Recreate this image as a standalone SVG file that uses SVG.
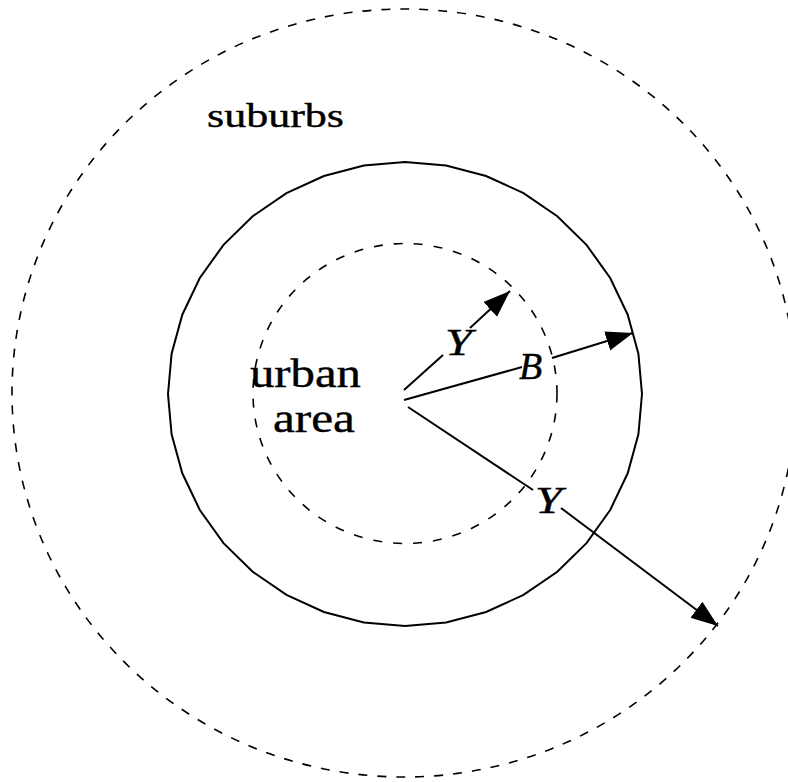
<svg xmlns="http://www.w3.org/2000/svg" width="788" height="782" viewBox="0 0 788 782">
<style>
.dash{fill:none;stroke:#000;stroke-width:1.6}
.solid{fill:none;stroke:#000;stroke-width:2}
.ln{fill:none;stroke:#000;stroke-width:2}
.lbl{font-family:"Liberation Serif","Times New Roman",serif;fill:#000;stroke:#000;stroke-width:0.4}
.var{font-family:"Liberation Serif","Times New Roman",serif;font-style:italic;fill:#000;stroke:#000;stroke-width:0.4}
</style>
<defs>
<marker id="ah" markerUnits="userSpaceOnUse" markerWidth="30" markerHeight="22" refX="27" refY="10" orient="auto">
<path d="M0,0 L27,10 L0,20 Z" fill="#000"/>
</marker>
</defs>
<rect width="788" height="782" fill="#fff"/>
<g id="suburbs">
<ellipse class="dash" cx="404" cy="393" rx="392" ry="384" stroke-dasharray="9 10"/>
<text class="lbl" x="207" y="127" font-size="34" textLength="137" lengthAdjust="spacingAndGlyphs">suburbs</text>
</g>
<g id="boundary">
<polygon class="solid" points="642,394 638.4,434.3 627.7,473.3 610.2,510 586.5,543.1 557.3,571.7 523.5,594.9 486.1,612 446.1,622.5 405,626 363.9,622.5 323.9,612 286.5,594.9 252.7,571.7 223.5,543.1 199.8,510 182.3,473.3 171.6,434.3 168,394 171.6,353.7 182.3,314.7 199.8,278 223.5,244.9 252.7,216.3 286.5,193.1 323.9,176 363.9,165.5 405,162 446.1,165.5 486.1,176 523.5,193.1 557.3,216.3 586.5,244.9 610.2,278 627.7,314.7 638.4,353.7"/>
</g>
<g id="urban">
<ellipse class="dash" cx="405" cy="393.5" rx="152" ry="150" stroke-dasharray="9 11"/>
<text class="lbl" x="250" y="387" font-size="40" textLength="111" lengthAdjust="spacingAndGlyphs">urban</text>
<text class="lbl" x="273" y="432" font-size="40" textLength="82" lengthAdjust="spacingAndGlyphs">area</text>
</g>
<g id="connectors">
<line class="ln" x1="404" y1="390" x2="443" y2="355"/>
<line class="ln" x1="470" y1="328" x2="510" y2="291" marker-end="url(#ah)"/>
<line class="ln" x1="404" y1="400" x2="522" y2="367"/>
<line class="ln" x1="552" y1="358" x2="633" y2="333" marker-end="url(#ah)"/>
<line class="ln" x1="408" y1="407" x2="533" y2="490"/>
<line class="ln" x1="561" y1="508" x2="718" y2="626" marker-end="url(#ah)"/>
</g>
<g id="labels">
<text class="var" x="445" y="355" font-size="38" textLength="27" lengthAdjust="spacingAndGlyphs">Y</text>
<text class="var" x="519" y="379" font-size="38">B</text>
<text class="var" x="535" y="513" font-size="38" textLength="27" lengthAdjust="spacingAndGlyphs">Y</text>
</g>
</svg>
